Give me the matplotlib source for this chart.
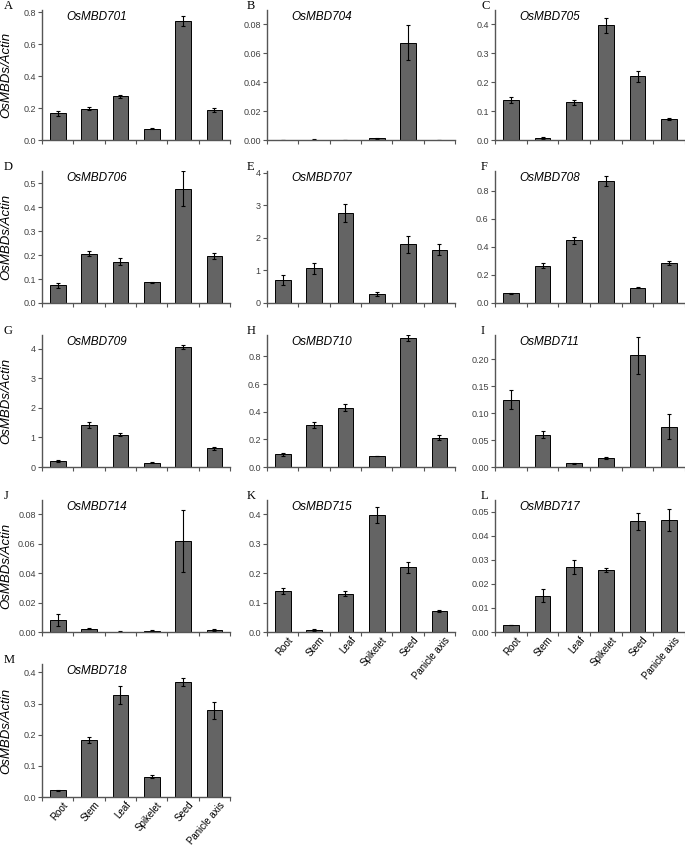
import matplotlib
matplotlib.use("Agg")
import matplotlib.pyplot as plt
import numpy as np
from matplotlib.ticker import FormatStrFormatter

plt.rcParams["font.family"] = ["Liberation Sans", "DejaVu Sans"]

# tissues
tissues = ["Root", "Stem", "Leaf", "Spikelet", "Seed", "Panicle axis"]

# gene names / panel letters
genes = ["OsMBD701", "OsMBD704", "OsMBD705", "OsMBD706", "OsMBD707", "OsMBD708",
         "OsMBD709", "OsMBD710", "OsMBD711", "OsMBD714", "OsMBD715", "OsMBD717",
         "OsMBD718"]
letters = ["A", "B", "C", "D", "E", "F", "G", "H", "I", "J", "K", "L", "M"]

# expression values
mbd701 = [0.168, 0.195, 0.273, 0.070, 0.747, 0.190]
mbd701_err = [0.015, 0.010, 0.009, 0.004, 0.033, 0.012]
mbd704 = [0.0001, 0.0003, 0.0002, 0.0012, 0.0673, 0.0002]
mbd704_err = [0.0, 0.0002, 0.0001, 0.0004, 0.0120, 0.0001]
mbd705 = [0.137, 0.007, 0.130, 0.396, 0.220, 0.072]
mbd705_err = [0.010, 0.002, 0.008, 0.027, 0.018, 0.003]
mbd706 = [0.074, 0.206, 0.172, 0.086, 0.478, 0.196]
mbd706_err = [0.010, 0.010, 0.015, 0.003, 0.072, 0.012]
mbd707 = [0.71, 1.07, 2.76, 0.28, 1.80, 1.63]
mbd707_err = [0.15, 0.17, 0.29, 0.05, 0.27, 0.17]
mbd708 = [0.068, 0.266, 0.447, 0.868, 0.110, 0.285]
mbd708_err = [0.005, 0.020, 0.025, 0.035, 0.004, 0.017]
mbd709 = [0.21, 1.41, 1.10, 0.14, 4.06, 0.63]
mbd709_err = [0.04, 0.10, 0.06, 0.02, 0.08, 0.04]
mbd710 = [0.093, 0.306, 0.430, 0.079, 0.932, 0.213]
mbd710_err = [0.010, 0.022, 0.025, 0.002, 0.020, 0.018]
mbd711 = [0.125, 0.060, 0.007, 0.0165, 0.207, 0.075]
mbd711_err = [0.018, 0.006, 0.001, 0.002, 0.034, 0.023]
mbd714 = [0.0079, 0.0021, 0.0003, 0.0009, 0.0618, 0.0012]
mbd714_err = [0.0040, 0.0003, 0.0001, 0.0002, 0.0212, 0.0008]
mbd715 = [0.138, 0.007, 0.130, 0.397, 0.220, 0.072]
mbd715_err = [0.010, 0.002, 0.008, 0.027, 0.018, 0.003]
mbd717 = [0.0030, 0.0151, 0.0269, 0.0259, 0.0460, 0.0464]
mbd717_err = [0.0, 0.0026, 0.0030, 0.0008, 0.0035, 0.0046]
mbd718 = [0.021, 0.184, 0.327, 0.065, 0.369, 0.278]
mbd718_err = [0.003, 0.010, 0.030, 0.005, 0.012, 0.027]

values = [mbd701, mbd704, mbd705, mbd706, mbd707, mbd708, mbd709, mbd710,
          mbd711, mbd714, mbd715, mbd717, mbd718]
errors = [mbd701_err, mbd704_err, mbd705_err, mbd706_err, mbd707_err, mbd708_err,
          mbd709_err, mbd710_err, mbd711_err, mbd714_err, mbd715_err, mbd717_err,
          mbd718_err]

# y axis settings: top, step, decimals
ymax = [0.815, 0.09, 0.449, 0.552, 4.05, 0.94, 4.47, 0.955, 0.245, 0.0895, 0.449, 0.0548, 0.427]
ystep = [0.2, 0.02, 0.1, 0.1, 1, 0.2, 1, 0.2, 0.05, 0.02, 0.1, 0.01, 0.1]
ydec = [1, 2, 1, 1, 0, 1, 0, 1, 2, 2, 1, 2, 1]

W, H = 685, 846
fig = plt.figure(figsize=(W / 100, H / 100), dpi=100)

col_left = [42, 267, 495]
col_width = [188, 188, 190]
row_top = [10, 171, 335, 500, 664]
row_bot = [140, 303, 467, 632, 797]
letter_dx = [38, 20, 14]

axis_col = "#555555"
tick_col = "#404040"
bar_col = "#646464"

for i in range(13):
    r, c = divmod(i, 3)
    x0 = col_left[c] / W
    y0 = 1 - row_bot[r] / H
    ax = fig.add_axes([x0, y0, col_width[c] / W, (row_bot[r] - row_top[r]) / H])

    x = np.arange(6)
    ax.bar(x, values[i], width=0.5, color=bar_col, edgecolor="black", linewidth=0.7,
           yerr=errors[i], error_kw=dict(ecolor="black", elinewidth=0.8, capsize=1.5, capthick=0.8))

    ax.set_xlim(-0.5, 5.5)
    ax.set_ylim(0, ymax[i])
    ax.set_yticks(np.arange(0, ymax[i] + 1e-9, ystep[i]))
    ax.yaxis.set_major_formatter(FormatStrFormatter("%%.%df" % ydec[i]))

    # category boundaries as tick marks, labels at centres
    ax.set_xticks(np.arange(-0.5, 5.6, 1.0))
    ax.set_xticklabels([])
    ax.tick_params(axis="x", which="major", direction="out", length=3, width=0.8, color=axis_col)
    ax.tick_params(axis="y", direction="out", length=3, width=0.8, color=axis_col,
                   labelsize=6.5, labelcolor=tick_col, pad=1.5)
    if i >= 10:
        ax.set_xticks(x + 0.15, minor=True)
        ax.set_xticklabels(tissues, minor=True, rotation=50, ha="right",
                           rotation_mode="anchor", fontsize=7.0, color="black")
        ax.tick_params(axis="x", which="minor", length=0, pad=2)

    for s in ["top", "right"]:
        ax.spines[s].set_visible(False)
    for s in ["left", "bottom"]:
        ax.spines[s].set_color(axis_col)
        ax.spines[s].set_linewidth(1.0)

    ax.text(0.13, 0.99, genes[i], transform=ax.transAxes, ha="left", va="top",
            fontsize=8.5, style="italic")

    if c == 0:
        ax.set_ylabel("OsMBDs/Actin", fontsize=9.5, style="italic")
        ax.yaxis.set_label_coords(-30 / col_width[c], 0.5)

    fig.text((col_left[c] - letter_dx[c]) / W, 1 - (row_top[r] - 4) / H, letters[i],
             fontsize=9, family="Liberation Serif", ha="left", va="center")

fig.savefig("out.png", dpi=100)
